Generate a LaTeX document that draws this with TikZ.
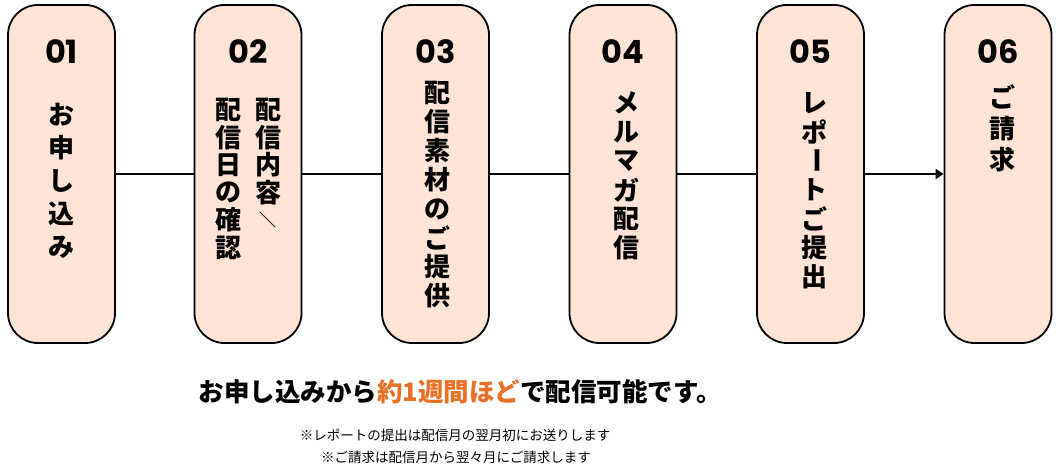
\documentclass[tikz,border=0pt]{standalone}
\usepackage{fontspec}
\usetikzlibrary{arrows.meta}
\newfontfamily\jpfont{Noto Sans CJK JP}
\newfontfamily\numfont{Poppins}
\definecolor{boxfill}{RGB}{253,228,214}
\definecolor{accent}{RGB}{232,113,40}
\newcommand\tatebar{\rotatebox[origin=c]{-90}{ー}}
\newcommand\tateslash{\rotatebox[origin=c]{-90}{\scalebox{0.65}{／}}}
\begin{document}
\begin{tikzpicture}[x=1pt,y=-1pt,
  stepbox/.style={draw=black,line width=1.8pt,fill=boxfill,rounded corners=30pt,
    minimum width=107pt,minimum height=338pt,inner sep=0pt},
  steplabel/.style={font=\numfont\bfseries\fontsize{32}{32}\selectfont,inner sep=0pt},
  tatechar/.style={font=\jpfont\bfseries\fontsize{26}{26}\selectfont,inner sep=0pt},
  link/.style={line width=1.8pt}]
  \useasboundingbox (0,0) rectangle (1059,470);
  \foreach \i/\x in {1/61.5,2/248,3/435.5,4/623,5/810.5,6/998} {
    \node[stepbox] (s\i) at (\x,174) {};
    \node[steplabel] (n\i) at (\x,52) {0\i};
  }
  \foreach \a/\b in {1/2,2/3,3/4,4/5} {
    \draw[link] (s\a) -- (s\b);
  }
  \draw[link,-{Triangle[length=8pt,width=10pt]}] (s5) -- (s6);
  % vertical labels, one glyph per node
  \foreach \j/\x/\y/\p/\txt in
    {1/61.5/115/33/{お,申,し,込,み},
     2/268/110/27.5/{配,信,内,容,\tateslash},
     2b/228/110/27.5/{配,信,日,の,確,認},
     3/437/93/29/{配,信,素,材,の,ご,提,供},
     4/626/103/29/{メ,ル,マ,ガ,配,信},
     5/814/103/29/{レ,ポ,\tatebar,ト,ご,提,出},
     6/1002/97/31.5/{ご,請,求}} {
    \foreach \c [count=\k] in \txt {
      \node[tatechar] (c\j-\k) at (\x,{\y+(\k-1)*\p}) {\c};
    }
  }
  \node[font=\jpfont\bfseries\fontsize{25.5}{25.5}\selectfont] (lead) at (460,392)
    {お申し込みから\textcolor{accent}{約1週間ほど}で配信可能です。};
  \node[font=\jpfont\fontsize{13.5}{13.5}\selectfont] (note1) at (455,435)
    {※レポートの提出は配信月の翌月初にお送りします};
  \node[font=\jpfont\fontsize{13.5}{13.5}\selectfont] (note2) at (456,457)
    {※ご請求は配信月から翌々月にご請求します};
\end{tikzpicture}
\end{document}
